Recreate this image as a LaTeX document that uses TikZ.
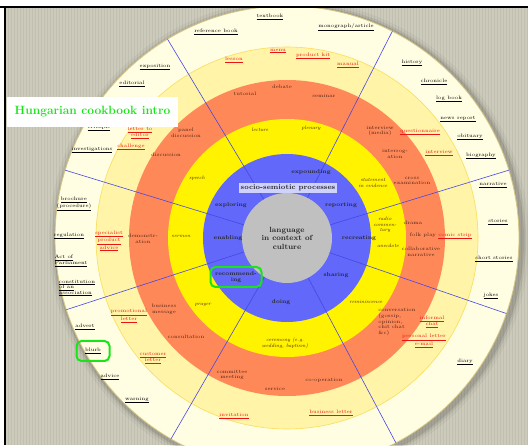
\documentclass[tikz,border=0pt]{standalone}
\usepackage{tikz}
\usetikzlibrary{calc}
\definecolor{bgGrey}{RGB}{204,202,186}
\definecolor{ringCream}{RGB}{255,253,226}
\definecolor{ringEdge}{RGB}{214,196,130}
\definecolor{ringPale}{RGB}{255,244,168}
\definecolor{ringPaleEdge}{RGB}{250,222,90}
\definecolor{ringOrange}{RGB}{255,136,88}
\definecolor{ringYellow}{RGB}{255,243,0}
\definecolor{ringBlue}{RGB}{98,104,250}
\definecolor{coreGrey}{RGB}{192,192,192}
\definecolor{spokeBlue}{RGB}{70,72,230}
\definecolor{linkRed}{RGB}{235,20,20}
\definecolor{inkBrown}{RGB}{70,35,20}
\definecolor{markGreen}{RGB}{25,228,25}

\begin{document}
\begin{tikzpicture}[x=1pt,y=1pt,
    txt/.style={font=\fontsize{5pt}{5.6pt}\selectfont, align=center, inner sep=0pt, text=black},
    link/.style={txt, text=linkRed},
    act/.style={txt, text=inkBrown},
    genre/.style={txt, text=inkBrown, font=\fontsize{5pt}{5.6pt}\selectfont\itshape},
    proc/.style={font=\fontsize{5.6pt}{6pt}\selectfont\bfseries, align=center, inner sep=1pt, text=black!85},
    hilite/.style={draw=markGreen, line width=2pt, rounded corners=5pt},
    spoke/.style={spokeBlue, line width=0.6pt}]
\useasboundingbox (0,0) rectangle (528,445);
\fill[white] (0,0) rectangle (528,445);
\fill[bgGrey] (5,0) rectangle (528,438);
\foreach \x in {8,11,...,527}
    \draw[black, opacity=0.05, line width=0.6pt] (\x,0) -- (\x,438);

% the wheel
\begin{scope}
\clip (5,0) rectangle (528,438);
\coordinate (ctr) at (287,207);
\foreach \r/\o in {240/0.04,237/0.07,235/0.1}
    \fill[black, opacity=\o] ($(ctr)+(2,-2)$) circle[radius=\r];
\filldraw[fill=ringCream, draw=ringEdge, line width=0.8pt] (ctr) circle[radius=232];
\filldraw[fill=ringPale, draw=ringPaleEdge, line width=0.6pt] (ctr) circle[radius=191];
\fill[ringOrange] (ctr) circle[radius=158];
\fill[ringYellow] (ctr) circle[radius=119];
\fill[ringBlue] (ctr) circle[radius=84];
\node[circle, fill=coreGrey, minimum size=90pt, inner sep=0pt, align=center,
      font=\fontsize{7.5pt}{8.5pt}\selectfont\bfseries, text=black!85] (core) at (ctr)
      {language\\in context of\\culture};
\foreach \a in {121,63,17,341,298,240,198,163}
    \draw[spoke] (core.\a) -- ($(ctr)+(\a:232)$);
\end{scope}

\draw[line width=1.2pt] (0,438) -- (528,438);
\draw[line width=1.2pt] (5,0) -- (5,438);

% socio-semiotic processes
\node[proc, fill=white!70!ringBlue, font=\fontsize{7pt}{7.5pt}\selectfont\bfseries, inner sep=1.5pt] (procs) at (288,257) {socio-semiotic processes};
\node[proc] (expounding) at (311,273) {expounding};
\node[proc] (reporting) at (341,240) {reporting};
\node[proc] (recreating) at (359,207) {recreating};
\node[proc] (sharing) at (336,170) {sharing};
\node[proc] (doing) at (281,143) {doing};
\node[proc, hilite, minimum width=51pt, minimum height=20pt] (recommending) at (236,168) {recommend-\\ing};
\node[proc] (enabling) at (228,207) {enabling};
\node[proc] (exploring) at (231,240) {exploring};

% yellow ring
\node[genre] (lecture) at (260,315) {lecture};
\node[genre] (plenary) at (311,317) {plenary};
\node[genre] (statement) at (373,262) {statement\\in evidence};
\node[genre] (radio) at (385,220) {radio\\commen-\\tary};
\node[genre] (anecdote) at (388,199) {anecdote};
\node[genre] (reminiscence) at (366,143) {reminiscence};
\node[genre] (ceremony) at (285,102) {ceremony (e.g.\\wedding, baptism)};
\node[genre] (prayer) at (203,140) {prayer};
\node[genre] (sermon) at (181,209) {sermon};
\node[genre] (speech) at (197,267) {speech};

% orange ring
\node[act] (tutorial) at (245,351) {tutorial};
\node[act] (debate) at (282,358) {debate};
\node[act] (seminar) at (324,349) {seminar};
\node[act] (interview) at (380,314) {interview\\(media)};
\node[act] (interrogation) at (395,291) {interrog-\\ation};
\node[act] (crossexam) at (412,264) {cross\\examination};
\node[act] (drama) at (413,222) {drama};
\node[act] (folkplay) at (423,210) {folk play};
\node[act] (collab) at (421,193) {collaborative\\narrative};
\node[act, align=left] (conversation) at (397,123) {conversation\\(gossip,\\opinion,\\chit chat\\\&c)};
\node[act] (cooperation) at (324,65) {co-operation};
\node[act] (service) at (275,56) {service};
\node[act] (committee) at (232,70) {committee\\meeting};
\node[act] (consultation) at (186,108) {consultation};
\node[act] (busmessage) at (164,136) {business\\message};
\node[act] (demonstration) at (143,206) {demonstr-\\ation};
\node[act] (discussion) at (166,290) {discussion};
\node[act] (panel) at (186,312) {panel\\discussion};

% pale ring
\node[link] (lesson) at (234,385) {\underline{lesson}};
\node[link] (menu) at (278,394) {\underline{menu}};
\node[link] (prodkit) at (313,389) {\underline{product kit}};
\node[link] (manualred) at (348,380) {\underline{manual}};
\node[link] (questionnaire) at (420,313) {\underline{questionnaire}};
\node[link] (interviewtxt) at (439,292) {\underline{interview}};
\node[link] (comic) at (455,209) {\underline{comic strip}};
\node[link] (infochat) at (432,123) {\underline{informal}\\\underline{chat}};
\node[link] (perslet) at (424,104) {\underline{personal letter}\\\underline{e-mail}};
\node[link] (invitation) at (234,29) {\underline{invitation}};
\node[link] (busletter) at (331,32) {\underline{business letter}};
\node[link] (promoletter) at (129,129) {\underline{promotional}\\\underline{letter}};
\node[link] (custletter) at (153,87) {\underline{customer}\\\underline{letter}};
\node[link] (specadvice) at (109,204) {\underline{specialist}\\\underline{product}\\\underline{advice}};
\node[link] (lettered) at (140,312) {\underline{letter to}\\\underline{editor}};
\node[link] (challenge) at (131,298) {\underline{challenge}};

% cream ring
\node[txt] (textbook) at (270,428) {\underline{textbook}};
\node[txt] (refbook) at (216,413) {\underline{reference book}};
\node[txt] (monograph) at (346,418) {\underline{monograph/article}};
\node[txt] (history) at (412,382) {\underline{history}};
\node[txt] (chronicle) at (434,363) {\underline{chronicle}};
\node[txt] (logbook) at (449,346) {\underline{log book}};
\node[txt] (newsrep) at (458,326) {\underline{news report}};
\node[txt] (obituary) at (470,308) {\underline{obituary}};
\node[txt] (biography) at (481,289) {\underline{biography}};
\node[txt] (narratives) at (493,260) {\underline{narrative}};
\node[txt] (stories) at (498,223) {\underline{stories}};
\node[txt] (shortstories) at (494,186) {\underline{short stories}};
\node[txt] (jokes) at (491,149) {\underline{jokes}};
\node[txt] (diary) at (465,83) {\underline{diary}};
\node[txt] (warning) at (137,45) {\underline{warning}};
\node[txt] (advice) at (110,68) {\underline{advice}};
\node[txt, hilite, minimum width=33pt, minimum height=20pt] (blurb) at (93,94) {\underline{blurb}};
\node[txt] (advert) at (85,118) {\underline{advert}};
\node[txt, align=left] (constitution) at (77,157) {\underline{constitution}\\\underline{of an}\\\underline{association}};
\node[txt, align=left] (actparl) at (71,184) {\underline{Act of}\\\underline{Parliament}};
\node[txt] (regulation) at (69,209) {\underline{regulation}};
\node[txt] (brochure) at (74,241) {\underline{brochure}\\\underline{(procedure)}};
\node[txt] (investig) at (92,295) {\underline{investigations}};
\node[txt] (critique) at (99,317) {\underline{critique}};
\node[txt] (editorial) at (132,361) {\underline{editorial}};
\node[txt] (exposition) at (155,378) {\underline{exposition}};

% title
\node[fill=white, minimum width=171pt, minimum height=30pt, inner sep=0pt,
      font=\fontsize{12pt}{13pt}\selectfont\bfseries, text=markGreen] (title) at (92.5,333) {Hungarian cookbook intro};
\end{tikzpicture}
\end{document}
